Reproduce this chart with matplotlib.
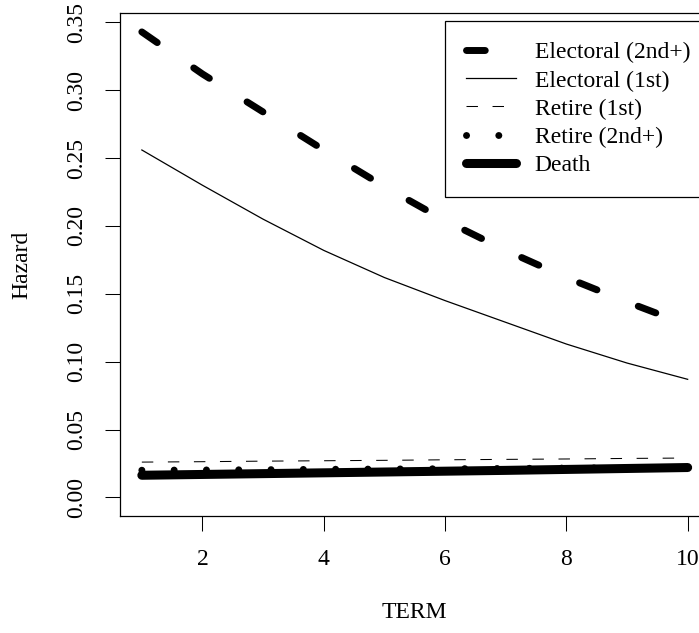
import numpy as np
import matplotlib
matplotlib.use("Agg")
import matplotlib.pyplot as plt

plt.rcParams['font.family'] = ['Liberation Serif', 'DejaVu Serif']

# hazard by term
term = [1, 2, 3, 4, 5, 6, 7, 8, 9, 10]
electoral_2nd = [0.343, 0.312, 0.284, 0.256, 0.229, 0.204, 0.182, 0.162, 0.144, 0.127]
electoral_1st = [0.256, 0.230, 0.205, 0.182, 0.162, 0.145, 0.129, 0.113, 0.099, 0.087]
retire_1st = [0.0260, 0.0263, 0.0267, 0.0270, 0.0273, 0.0277, 0.0280, 0.0283, 0.0287, 0.0290]
retire_2nd = [0.0200, 0.0202, 0.0204, 0.0207, 0.0209, 0.0211, 0.0213, 0.0216, 0.0218, 0.0221]
death = [0.0163, 0.0169, 0.0175, 0.0181, 0.0187, 0.0193, 0.0199, 0.0206, 0.0213, 0.0220]

x_ticks = [2, 4, 6, 8, 10]
y_ticks = [0.00, 0.05, 0.10, 0.15, 0.20, 0.25, 0.30, 0.35]

W, H = 699, 633
fs = 17
fig = plt.figure(figsize=(W / 100, H / 100), dpi=100)
# plot region runs past the right edge like the original
left, right, top, bottom = 120, 709.5, 13.3, 516
ax = fig.add_axes([left / W, 1 - bottom / H, (right - left) / W, (bottom - top) / H])

ax.plot(term, electoral_2nd, color='black', lw=5, ls=(0, (2.7, 6.4)),
        dash_capstyle='round', label='Electoral (2nd+)')
ax.plot(term, electoral_1st, color='black', lw=0.9, label='Electoral (1st)')
ax.plot(term, retire_1st, color='black', lw=0.75, ls=(0, (11, 14)),
        dash_capstyle='butt', label='Retire (1st)')
ax.plot(term, retire_2nd, color='black', lw=5, ls=(0, (0.01, 4.64)),
        dash_capstyle='round', label='Retire (2nd+)')
ax.plot(term, death, color='black', lw=6.5, solid_capstyle='round', label='Death')

ax.set_xlim(0.64, 10.36)
ax.set_ylim(0 - 0.04 * 0.343, 0.343 + 0.04 * 0.343)
ax.set_xticks(x_ticks)
ax.set_xticklabels([str(t) for t in x_ticks])
ax.set_yticks(y_ticks)
ax.set_yticklabels(['%.2f' % v for v in y_ticks], rotation=90, va='center')
ax.tick_params(direction='out', length=10.8, width=0.75, labelsize=fs, pad=13)
for sp in ax.spines.values():
    sp.set_linewidth(0.9)

fig.text(22 / W, 1 - 265 / H, 'Hazard', rotation=90, ha='center', va='center', fontsize=fs)
fig.text(414.7 / W, 1 - 612 / H, 'TERM', ha='center', va='center', fontsize=fs)

leg = ax.legend(loc='upper left', bbox_to_anchor=(445 / W, 1 - 20.7 / H),
                bbox_transform=fig.transFigure, borderaxespad=0, fontsize=fs,
                handlelength=2.1, handletextpad=0.8, borderpad=0.9,
                labelspacing=0.28, fancybox=False, framealpha=1, edgecolor='black')
leg.get_frame().set_linewidth(0.9)

fig.savefig('out.png', dpi=100)
